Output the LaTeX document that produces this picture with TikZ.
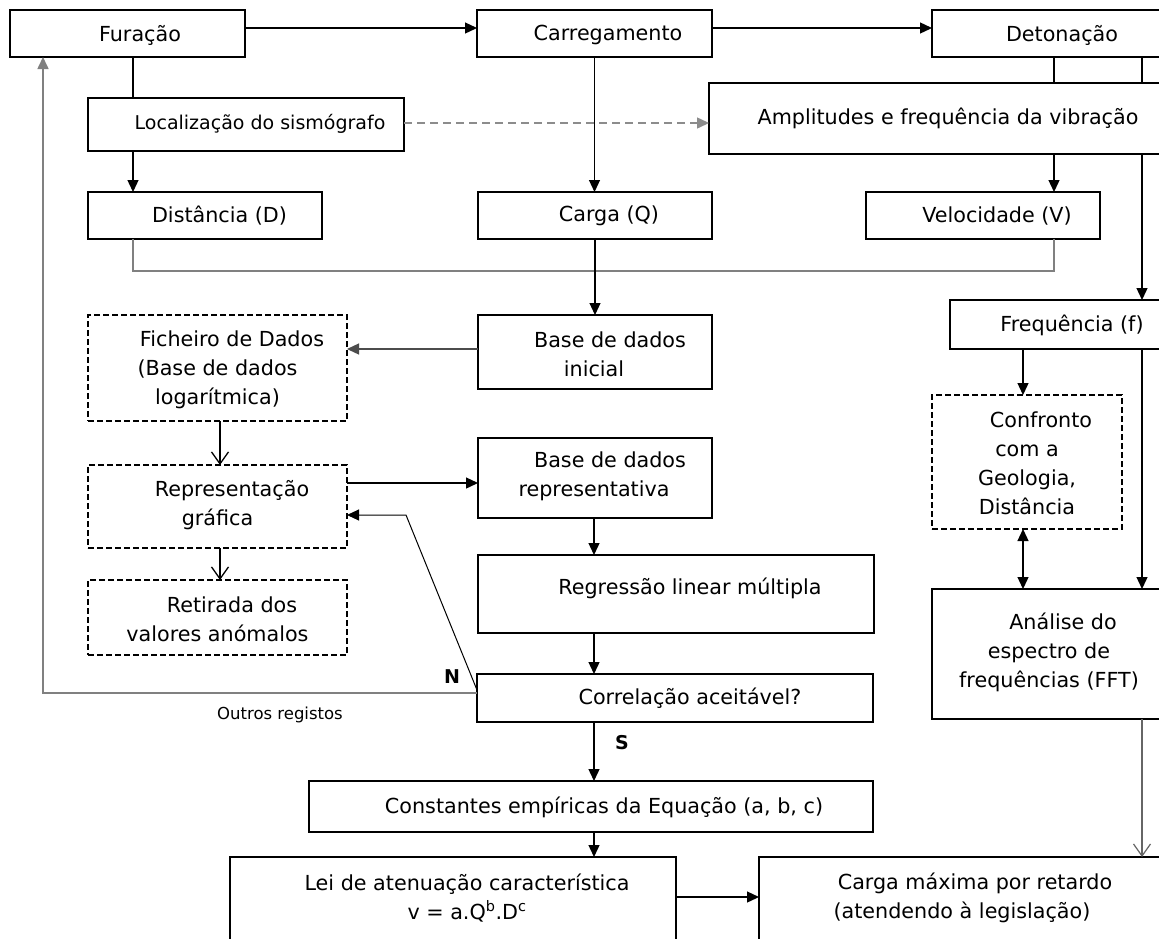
\documentclass[tikz,border=0pt]{standalone}
\usepackage{fontspec}
\setmainfont{DejaVu Sans}
\usetikzlibrary{arrows.meta}
\begin{document}
\begin{tikzpicture}[x=1pt,y=-1pt,
 >={Triangle[length=12pt,width=11pt]},
 box/.style={draw, line width=1.3pt, fill=white, inner sep=0pt, outer sep=0pt},
 dbox/.style={box, dash pattern=on 6pt off 3pt},
 txt/.style={font=\fontsize{20.7}{29}\selectfont, align=center, inner sep=0pt},
 arr/.style={line width=1.3pt, ->},
 oarr/.style={line width=1.3pt, -{Straight Barb[length=12pt,width=17pt]}},
 ln/.style={line width=1.3pt},
 gln/.style={line width=1.6pt, draw=black!50},
]
\useasboundingbox (0,0) rectangle (1159,938);
\clip (0,0) rectangle (1159,938);
\fill[white] (0,0) rectangle (1159,938);

% helper coordinates
\coordinate (y28) at (0,28);
\coordinate (y123) at (0,123);
\coordinate (y271) at (0,271);
\coordinate (y349) at (0,349);
\coordinate (y483) at (0,483);
\coordinate (y515) at (0,515);
\coordinate (y690) at (0,690);
\coordinate (y693) at (0,693);
\coordinate (y897) at (0,897);
\coordinate (x43) at (43,0);
\coordinate (x133) at (133,0);
\coordinate (x220) at (220,0);
\coordinate (x594) at (594,0);
\coordinate (x1023) at (1023,0);
\coordinate (x1054) at (1054,0);
\coordinate (x1142) at (1142,0);
\coordinate (bend) at (406,515);

% boxes
\node[box, minimum width=235, minimum height=47] (fur) at (127.5,33.5) {};
\node[box, minimum width=235, minimum height=47] (car) at (594.5,33.5) {};
\node[box, minimum width=233, minimum height=47] (det) at (1048.5,33.5) {};
\node[box, minimum width=316, minimum height=53] (loc) at (246,124.5) {};
\node[box, minimum width=456, minimum height=71] (amp) at (937,118.5) {};
\node[box, minimum width=234, minimum height=47] (dist) at (205,215.5) {};
\node[box, minimum width=234, minimum height=47] (carga) at (595,215.5) {};
\node[box, minimum width=234, minimum height=47] (vel) at (983,215.5) {};
\node[box, minimum width=234, minimum height=74] (bdi) at (595,352) {};
\node[dbox, minimum width=259, minimum height=106] (fich) at (217.5,368) {};
\node[box, minimum width=215, minimum height=49] (freq) at (1057.5,324.5) {};
\node[dbox, minimum width=259, minimum height=83] (rep) at (217.5,506.5) {};
\node[box, minimum width=234, minimum height=80] (bdr) at (595,478) {};
\node[dbox, minimum width=190, minimum height=134] (conf) at (1027,462) {};
\node[box, minimum width=396, minimum height=78] (reg) at (676,594) {};
\node[dbox, minimum width=259, minimum height=75] (ret) at (217.5,617.5) {};
\node[box, minimum width=234, minimum height=130] (anal) at (1049,654) {};
\node[box, minimum width=396, minimum height=48] (corr) at (675,698) {};
\node[box, minimum width=564, minimum height=51] (const) at (591,806.5) {};
\node[box, minimum width=446, minimum height=103] (lei) at (453,908.5) {};
\node[box, minimum width=441, minimum height=103] (cmax) at (979.5,908.5) {};

% texts
\node[txt] (t-fur) at (140,35) {Furação};
\node[txt] (t-car) at (608,35) {Carregamento};
\node[txt] (t-det) at (1062,35) {Detonação};
\node[txt, font=\fontsize{19}{26}\selectfont] (t-loc) at (260,124) {Localização do sismógrafo};
\node[txt] (t-amp) at (948,118) {Amplitudes e frequência da vibração};
\node[txt] (t-dist) at (219.5,216) {Distância (D)};
\node[txt] (t-carga) at (609,216) {Carga (Q)};
\node[txt] (t-vel) at (997,216) {Velocidade (V)};
\node[txt] (t-freq) at (1072,325) {Frequência (f)};
\node[txt] (t-bdi) at (594,354) {\hspace*{32pt}Base de dados\\inicial};
\node[txt] (t-fich) at (217.5,370) {\hspace*{29pt}Ficheiro de Dados\\(Base de dados\\logarítmica)};
\node[txt] (t-rep) at (217.5,505) {\hspace*{29pt}Representação\\gráfica};
\node[txt] (t-ret) at (217.5,619) {\hspace*{29pt}Retirada dos\\valores anómalos};
\node[txt] (t-bdr) at (594,476) {\hspace*{32pt}Base de dados\\representativa};
\node[txt] (t-reg) at (690,588) {Regressão linear múltipla};
\node[txt] (t-corr) at (690,698) {Correlação aceitável?};
\node[txt] (t-conf) at (1027,463) {\hspace*{28pt}Confronto\\com a\\Geologia,\\Distância};
\node[txt] (t-anal) at (1049,652) {\hspace*{28pt}Análise do\\espectro de\\frequências (FFT)};
\node[txt] (t-const) at (604,807) {Constantes empíricas da Equação (a, b, c)};
\node[txt] (t-lei) at (467,898) {Lei de atenuação característica\\v = a.Q\textsuperscript{b}.D\textsuperscript{c}};
\node[txt] (t-cmax) at (962,898) {\hspace*{26pt}Carga máxima por retardo\\(atendendo à legislação)};
\node[txt, font=\fontsize{16.5}{20}\selectfont] (t-out) at (280,715) {Outros registos};
\node[txt, font=\bfseries\fontsize{19}{22}\selectfont] (t-n) at (452,677) {N};
\node[txt, font=\bfseries\fontsize{19}{22}\selectfont] (t-s) at (622,743) {S};

% connectors
\draw[arr] (fur.east |- y28) -- (car.west |- y28);
\draw[arr] (car.east |- y28) -- (det.west |- y28);
\draw[ln] (fur.south -| x133) -- (loc.north -| x133);
\draw[arr] (loc.south -| x133) -- (dist.north -| x133);
\draw[arr, line width=1.1pt] (car.south) -- (car.south |- carga.north);
\draw[arr, draw=black!45, dash pattern=on 8pt off 5pt, line width=1.5pt] (loc.east |- y123) -- (amp.west |- y123);
\draw[ln] (det.south -| x1054) -- (amp.north -| x1054);
\draw[ln] (det.south -| x1142) -- (amp.north -| x1142);
\draw[arr] (amp.south -| x1142) -- (freq.north -| x1142);
\draw[arr] (amp.south -| x1054) -- (vel.north -| x1054);
\draw[gln] (dist.south -| x133) -- (x133 |- y271) -- (x1054 |- y271) -- (vel.south -| x1054);
\draw[arr, line width=1.1pt] (carga.south) -- (carga.south |- bdi.north);
\draw[arr, draw=black!70] (bdi.west |- y349) -- (fich.east |- y349);
\draw[oarr] (fich.south -| x220) -- (rep.north -| x220);
\draw[arr] (rep.east |- y483) -- (bdr.west |- y483);
\draw[oarr] (rep.south -| x220) -- (ret.north -| x220);
\draw[arr] (bdr.south -| x594) -- (reg.north -| x594);
\draw[arr] (reg.south -| x594) -- (corr.north -| x594);
\draw[gln, ->] (corr.west |- y693) -- (x43 |- y693) -- (fur.south -| x43);
\draw[line width=1pt, ->] (corr.west |- y690) -- (bend) -- (rep.east |- y515);
\draw[arr] (corr.south -| x594) -- (const.north -| x594);
\draw[arr] (const.south -| x594) -- (lei.north -| x594);
\draw[arr] (lei.east |- y897) -- (cmax.west |- y897);
\draw[arr] (freq.south -| x1023) -- (conf.north -| x1023);
\draw[line width=1.3pt, <->] (conf.south -| x1023) -- (anal.north -| x1023);
\draw[arr] (freq.south -| x1142) -- (anal.north -| x1142);
\draw[oarr, draw=black!60, line width=1.2pt] (anal.south -| x1142) -- (cmax.north -| x1142);
\end{tikzpicture}
\end{document}
